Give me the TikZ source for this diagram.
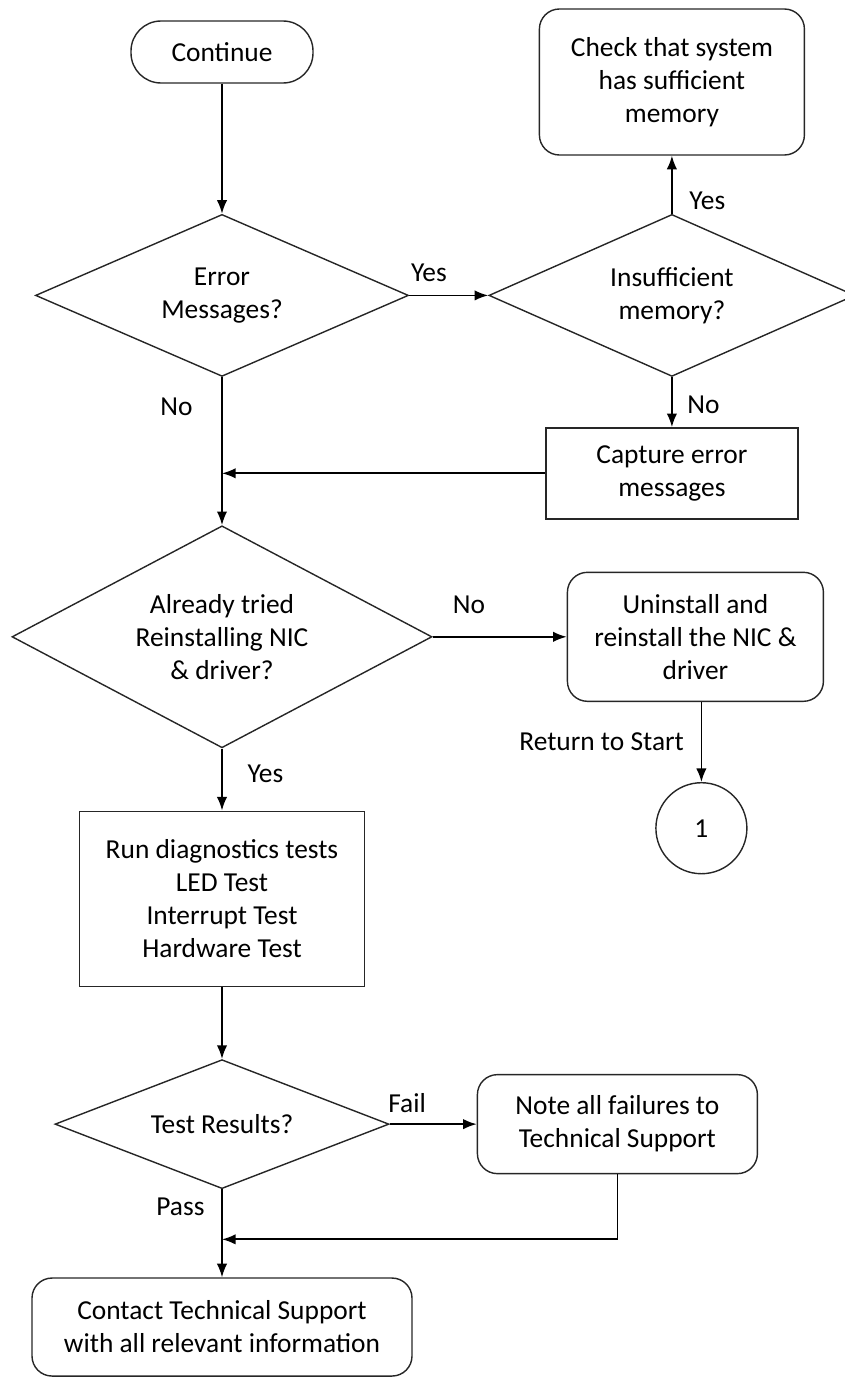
\documentclass[tikz,border=0pt]{standalone}
\usepackage{fontspec}
\setmainfont{Carlito}
\usetikzlibrary{shapes.geometric, arrows.meta, positioning}

\begin{document}
\begin{tikzpicture}[node distance=2cm, auto, font=\fontsize{19.5}{23.5}\selectfont]
        \tikzstyle{terminal} = [rectangle, draw=black!85, line width=1pt, rounded corners=0.75cm, minimum width=4.55cm, minimum height=1.55cm]
        \tikzstyle{decision} = [diamond, draw=black!85, line width=1pt, inner sep=0pt, align=center]
        \tikzstyle{process} = [rectangle, draw=black!85, line width=1pt, align=center]
        \tikzstyle{rprocess} = [process, rounded corners=0.5cm]
        \tikzstyle{connector} = [circle, draw=black!85, line width=1pt, minimum size=2.275cm]
        \tikzstyle{line} = [draw, -{Latex[length=3.4mm, width=2.6mm]}, very thick]

        \useasboundingbox (0,0) rectangle (21.1,-34.525);

        \node [terminal] (continue) at (5.55,-1.3) {Continue};
        \node [decision, minimum width=9.325cm, minimum height=4.05cm, aspect=2.3, below=3.25cm of continue] (errors) {Error\\Messages?};
        \node [decision, minimum width=9.15cm, minimum height=4.05cm, aspect=2.26, right=1.975cm of errors] (memory) {Insufficient\\memory?};
        \node [rprocess, minimum width=6.625cm, minimum height=3.65cm, above=1.45cm of memory] (check) {Check that system\\has sufficient\\memory};
        \node [process, minimum width=6.3cm, minimum height=2.275cm, below=1.25cm of memory] (capture) {Capture error\\messages};
        \node [decision, minimum width=10.5cm, minimum height=5.55cm, aspect=1.89, below=3.7cm of errors] (tried) {Already tried\\Reinstalling NIC\\\& driver?};
        \node [rprocess, minimum width=6.4cm, minimum height=3.225cm, right=3.35cm of tried] (reinstall) {Uninstall and\\reinstall the NIC \&\\driver};
        \node [connector, below=2cm of reinstall, xshift=0.15cm] (one) {1};
        \node [process, minimum width=7.125cm, minimum height=4.375cm, below=1.55cm of tried] (diag) {Run diagnostics tests\\LED Test\\Interrupt Test\\Hardware Test};
        \node [decision, minimum width=8.35cm, minimum height=3.225cm, aspect=2.59, below=1.8cm of diag] (results) {Test Results?};
        \node [rprocess, minimum width=7cm, minimum height=2.475cm, right=2.175cm of results] (note) {Note all failures to\\Technical Support};
        \node [rprocess, minimum width=9.5cm, minimum height=2.45cm, below=2.2cm of results] (contact) {Contact Technical Support\\with all relevant information};
        \coordinate [below=1.25cm of results] (join);

        \path [line] (continue) -- (errors);
        \path [line] (errors) -- node [above, pos=0.25, yshift=0.2cm] {Yes} (memory);
        \path [line] (memory) -- node [right, pos=0.22, xshift=0.3cm] {Yes} (check);
        \path [line] (memory) -- node [right, pos=0.55, xshift=0.25cm] {No} (capture);
        \path [line] (capture.west) -- (errors.south |- capture.west);
        \path [line] (errors) -- node [left, pos=0.2, xshift=-0.6cm] {No} (tried);
        \path [line] (tried) -- node [above, pos=0.27, yshift=0.45cm] {No} (reinstall);
        \path [line] (one.north |- reinstall.south) -- node [left, xshift=-0.3cm] {Return to Start} (one);
        \path [line] (tried) -- node [right, pos=0.4, xshift=0.5cm] {Yes} (diag);
        \path [line] (diag) -- (results);
        \path [line] (results) -- node [above, pos=0.2, yshift=0.15cm] {Fail} (note);
        \path [line] (note.south) |- (join);
        \path [line] (results) -- node [left, pos=0.2, xshift=-0.3cm] {Pass} (contact);
    \end{tikzpicture}
\end{document}
